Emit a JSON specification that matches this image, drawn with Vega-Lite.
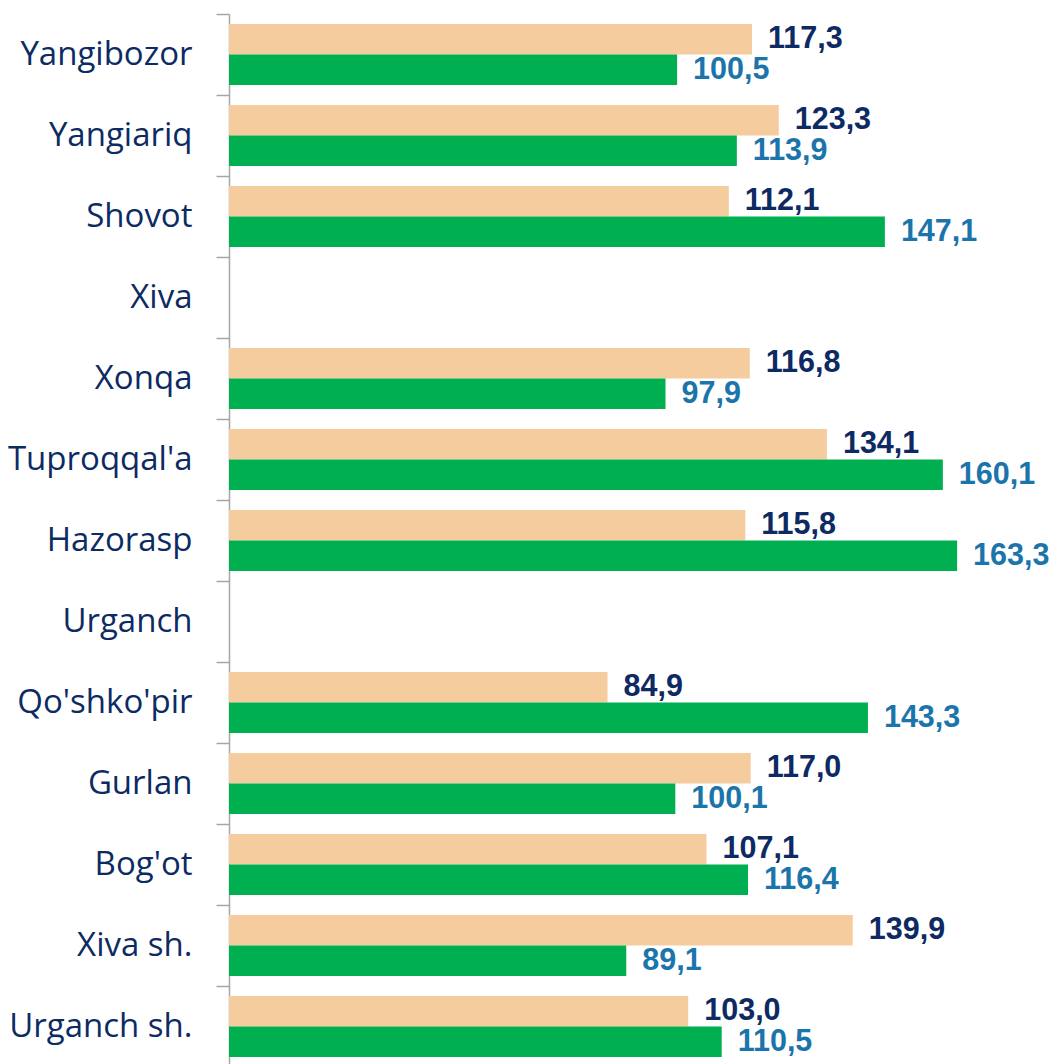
{
  "$schema": "https://vega.github.io/schema/vega-lite/v6.json",
  "width": 832,
  "height": 1053,
  "autosize": {"type": "none"},
  "padding": {"left": 229, "top": 14, "right": 0, "bottom": 0},
  "background": "white",
  "config": {
    "view": {"stroke": null},
    "locale": {"number": {"decimal": ",", "thousands": " ", "grouping": [3], "currency": ["", ""]}}
  },
  "data": {
    "values": [
      {"region": "Yangibozor", "series": "Seriya 1", "value": 117.3},
      {"region": "Yangibozor", "series": "Seriya 2", "value": 100.5},
      {"region": "Yangiariq", "series": "Seriya 1", "value": 123.3},
      {"region": "Yangiariq", "series": "Seriya 2", "value": 113.9},
      {"region": "Shovot", "series": "Seriya 1", "value": 112.1},
      {"region": "Shovot", "series": "Seriya 2", "value": 147.1},
      {"region": "Xonqa", "series": "Seriya 1", "value": 116.8},
      {"region": "Xonqa", "series": "Seriya 2", "value": 97.9},
      {"region": "Tuproqqal'a", "series": "Seriya 1", "value": 134.1},
      {"region": "Tuproqqal'a", "series": "Seriya 2", "value": 160.1},
      {"region": "Hazorasp", "series": "Seriya 1", "value": 115.8},
      {"region": "Hazorasp", "series": "Seriya 2", "value": 163.3},
      {"region": "Qo'shko'pir", "series": "Seriya 1", "value": 84.9},
      {"region": "Qo'shko'pir", "series": "Seriya 2", "value": 143.3},
      {"region": "Gurlan", "series": "Seriya 1", "value": 117.0},
      {"region": "Gurlan", "series": "Seriya 2", "value": 100.1},
      {"region": "Bog'ot", "series": "Seriya 1", "value": 107.1},
      {"region": "Bog'ot", "series": "Seriya 2", "value": 116.4},
      {"region": "Xiva sh.", "series": "Seriya 1", "value": 139.9},
      {"region": "Xiva sh.", "series": "Seriya 2", "value": 89.1},
      {"region": "Urganch sh.", "series": "Seriya 1", "value": 103.0},
      {"region": "Urganch sh.", "series": "Seriya 2", "value": 110.5}
    ]
  },
  "encoding": {
    "y": {
      "field": "region",
      "type": "nominal",
      "scale": {
        "domain": ["Yangibozor", "Yangiariq", "Shovot", "Xiva", "Xonqa", "Tuproqqal'a", "Hazorasp", "Urganch", "Qo'shko'pir", "Gurlan", "Bog'ot", "Xiva sh.", "Urganch sh."],
        "paddingInner": 0.247,
        "paddingOuter": 0.1235
      },
      "axis": {
        "title": null,
        "bandPosition": -0.164,
        "tickSize": 13,
        "tickColor": "#A6A6A6",
        "tickWidth": 1.5,
        "domainColor": "#A6A6A6",
        "domainWidth": 1.5,
        "labelFont": "Open Sans",
        "labelFontSize": 33,
        "labelColor": "#0D2B63",
        "labelPadding": 24,
        "labelLimit": 300,
        "encode": {
          "labels": {
            "update": {
              "dx": {"signal": "(datum.value == 'Xiva' || datum.value == 'Urganch') ? -19 : 0"}
            }
          }
        }
      }
    },
    "yOffset": {"field": "series", "type": "nominal", "scale": {"domain": ["Seriya 1", "Seriya 2"], "paddingInner": 0, "paddingOuter": 0}},
    "x": {
      "field": "value",
      "type": "quantitative",
      "scale": {"domain": [0, 186.6], "nice": false, "zero": true},
      "axis": null
    }
  },
  "layer": [
    {
      "mark": {"type": "bar"},
      "encoding": {
        "color": {
          "field": "series",
          "type": "nominal",
          "scale": {"domain": ["Seriya 1", "Seriya 2"], "range": ["#F5CC9E", "#00B050"]},
          "legend": null
        }
      }
    },
    {
      "mark": {"type": "text", "align": "left", "baseline": "middle", "dx": 16, "font": "Liberation Sans", "fontWeight": "bold", "fontSize": 30.5},
      "encoding": {
        "text": {"field": "value", "type": "quantitative", "format": ".1f"},
        "color": {
          "condition": {"test": "datum.series === 'Seriya 1'", "value": "#0D2A63"},
          "value": "#1B75AB"
        }
      }
    }
  ]
}
